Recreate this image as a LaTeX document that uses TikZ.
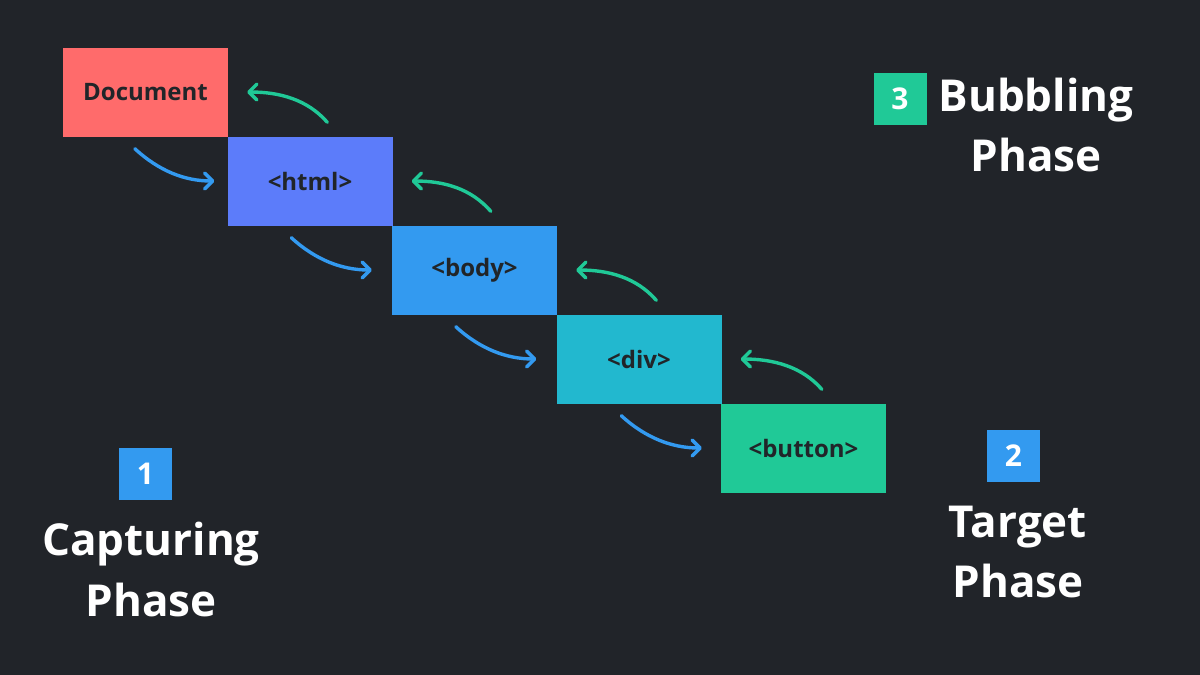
\documentclass[tikz,border=0pt]{standalone}
\usepackage{fontspec}
\setmainfont{Open Sans}
\usetikzlibrary{calc,arrows.meta}
\definecolor{bg}{HTML}{212429}
\definecolor{cred}{HTML}{FF6B6B}
\definecolor{cindigo}{HTML}{5C7CFA}
\definecolor{cblue}{HTML}{339AF0}
\definecolor{ccyan}{HTML}{22B8CF}
\definecolor{cteal}{HTML}{20C997}
\definecolor{ctext}{HTML}{212529}
\tikzset{
  elbox/.style={minimum width=165pt,minimum height=89pt,inner sep=0pt,
    text=ctext,font=\fontsize{24}{28}\selectfont\bfseries},
  numbox/.style={minimum width=53pt,minimum height=52pt,inner sep=0pt,
    text=white,font=\fontsize{30}{34}\selectfont\bfseries},
  bigtext/.style={anchor=base,text=white,inner sep=0pt,
    font=\fontsize{44}{50}\selectfont\bfseries},
  flow/.style={line width=3.4pt,line cap=round,
    -{Straight Barb[length=8pt,width=16pt,line cap=round,line join=round]}},
  down arrow/.style={flow,draw=cblue},
  up arrow/.style={flow,draw=cteal},
}
\begin{document}
\begin{tikzpicture}[x=1pt,y=-1pt]
\fill[bg] (0,0) rectangle (1200,675);
\useasboundingbox (0,0) rectangle (1200,675);

\node[elbox,fill=cred]    (doc)    at (145.5,92)  {Document};
\node[elbox,fill=cindigo] (html)   at (310,181)   {<html>};
\node[elbox,fill=cblue]   (body)   at (474.5,270) {<body>};
\node[elbox,fill=ccyan]   (div)    at (639,359)   {<div>};
\node[elbox,fill=cteal]   (button) at (803.5,448) {<button>};

% capturing arrows
\draw[down arrow] ($(doc.south west)+(72,12)$) .. controls +(24,22) and +(-30,0) .. ($(html.west)+(-13,0)$);
\draw[down arrow] ($(html.south west)+(64,12)$) .. controls +(24,22) and +(-30,0) .. ($(body.west)+(-20,0)$);
\draw[down arrow] ($(body.south west)+(64,12)$) .. controls +(24,22) and +(-30,0) .. ($(div.west)+(-20,0)$);
\draw[down arrow] ($(div.south west)+(65,12)$) .. controls +(24,22) and +(-30,0) .. ($(button.west)+(-19,0)$);

% bubbling arrows
\draw[up arrow] ($(html.north west)+(100,-14)$) .. controls +(-20,-23) and +(32,0) .. ($(doc.east)+(19,0)$);
\draw[up arrow] ($(body.north west)+(99,-14)$) .. controls +(-20,-23) and +(32,0) .. ($(html.east)+(19,0)$);
\draw[up arrow] ($(div.north west)+(100,-14)$) .. controls +(-20,-23) and +(32,0) .. ($(body.east)+(19,0)$);
\draw[up arrow] ($(button.north west)+(101,-14)$) .. controls +(-20,-23) and +(32,0) .. ($(div.east)+(19,0)$);

% phase labels
\node[numbox,fill=cblue] (n1) at (145.5,474) {1};
\node[bigtext] (cap1) at (151,555) {Capturing};
\node[bigtext] (cap2) at (151,616) {Phase};

\node[numbox,fill=cblue] (n2) at (1013.5,456) {2};
\node[bigtext] (tar1) at (1018,537) {Target};
\node[bigtext] (tar2) at (1018,597) {Phase};

\node[numbox,fill=cteal] (n3) at (900,98.5) {3};
\node[bigtext] (bub1) at (1036,111) {Bubbling};
\node[bigtext] (bub2) at (1036,171) {Phase};
\end{tikzpicture}
\end{document}
